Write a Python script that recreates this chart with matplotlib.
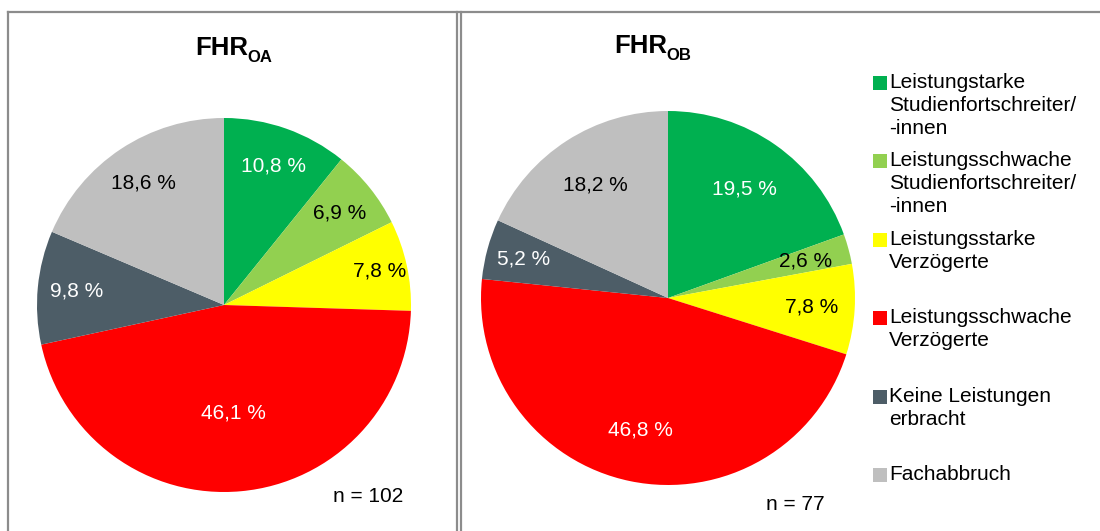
import numpy as np
import matplotlib.pyplot as plt
from matplotlib.patches import Rectangle
from matplotlib.lines import Line2D

plt.rcParams['font.family'] = ['Liberation Sans', 'DejaVu Sans']

# category order (clockwise from 12 o'clock)
categories = [
    "Leistungstarke\nStudienfortschreiter/\n-innen",
    "Leistungsschwache\nStudienfortschreiter/\n-innen",
    "Leistungsstarke\nVerzögerte",
    "Leistungsschwache\nVerzögerte",
    "Keine Leistungen\nerbracht",
    "Fachabbruch",
]
colors = ["#00B050", "#92D050", "#FFFF00", "#FF0000", "#4D5D67", "#BFBFBF"]
label_colors = ["white", "black", "black", "white", "white", "black"]

share_oa = [10.8, 6.9, 7.8, 46.1, 9.8, 18.6]
share_ob = [19.5, 2.6, 7.8, 46.8, 5.2, 18.2]
n_oa = 102
n_ob = 77

W, H = 1100, 531
fig = plt.figure(figsize=(W / 100, H / 100), dpi=100)


def px_axes(cx, cy, r):
    # square axes centred on (cx, cy) in pixel coordinates, top-left origin
    return fig.add_axes([(cx - r) / W, (H - cy - r) / H, 2 * r / W, 2 * r / H])


def draw_pie(ax, values, label_r):
    wedges, _ = ax.pie(values, colors=colors, startangle=90, counterclock=False,
                       radius=1.0, wedgeprops=dict(linewidth=0))
    for w, v, c, lr in zip(wedges, values, label_colors, label_r):
        ang = np.deg2rad((w.theta1 + w.theta2) / 2)
        ax.text(lr * np.cos(ang), lr * np.sin(ang), f"{v:.1f} %".replace(".", ","),
                ha="center", va="center", color=c, fontsize=15)
    ax.set_xlim(-1, 1)
    ax.set_ylim(-1, 1)
    ax.set_aspect("equal")
    ax.axis("off")


def title(x, y, main, sub):
    # bold heading with a bold subscript
    fig.text(x / W, 1 - y / H, main, ha="left", va="baseline",
             fontsize=18.5, fontweight="bold")
    fig.text((x + 52) / W, 1 - (y + 7) / H, sub, ha="left", va="baseline",
             fontsize=12, fontweight="bold")


ax1 = px_axes(224, 305, 187)
draw_pie(ax1, share_oa, [0.79, 0.79, 0.85, 0.58, 0.79, 0.78])
ax2 = px_axes(668, 298, 187)
draw_pie(ax2, share_ob, [0.71, 0.76, 0.77, 0.72, 0.80, 0.72])

title(195, 55, "FHR", "OA")
title(614, 53, "FHR", "OB")

fig.text(368 / W, 1 - 497 / H, f"n = {n_oa}", ha="center", va="center", fontsize=15)
fig.text(795 / W, 1 - 505 / H, f"n = {n_ob}", ha="center", va="center", fontsize=15)

# legend, one slot per category
for i, (lab, col) in enumerate(zip(categories, colors)):
    y = 76 + i * 78.4
    fig.patches.append(Rectangle((873 / W, 1 - (y + 14) / H), 14 / W, 14 / H,
                                 transform=fig.transFigure, facecolor=col,
                                 edgecolor="none"))
    fig.text(889 / W, 1 - (y - 3) / H, lab, ha="left", va="top", fontsize=15,
             linespacing=1.26)

# panel frames
frame = dict(color="#8C8C8C", linewidth=1.6, transform=fig.transFigure)
fig.add_artist(Line2D([8 / W, 8 / W], [0, 1 - 12 / H], **frame))
fig.add_artist(Line2D([8 / W, 1], [1 - 12 / H, 1 - 12 / H], **frame))
fig.add_artist(Line2D([457 / W, 457 / W], [0, 1 - 12 / H], **frame))
fig.add_artist(Line2D([461 / W, 461 / W], [0, 1 - 12 / H], **frame))

fig.savefig("out.png", dpi=100, facecolor="white")
